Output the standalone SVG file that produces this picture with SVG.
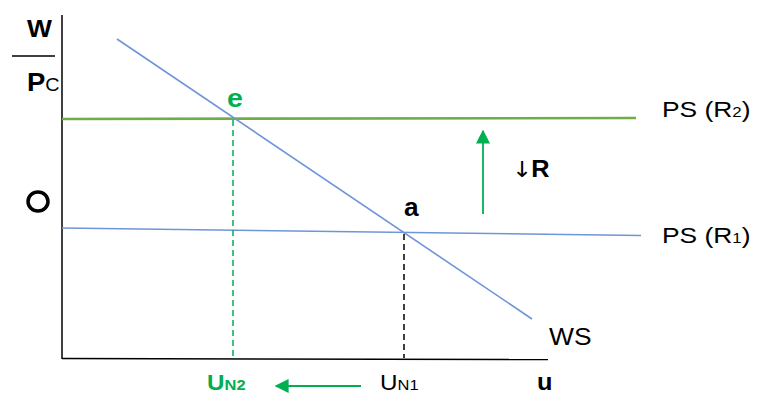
<svg xmlns="http://www.w3.org/2000/svg" width="759" height="396" viewBox="0 0 759 396">
<style>
text{font-family:"Liberation Sans",Arial,sans-serif;fill:#000}
.b{font-weight:bold}
.g{fill:#00B050}
.axis{stroke:#000;stroke-width:1.5;fill:none}
.blue{stroke:#6F95D8;stroke-width:1.6;fill:none}
.ps2{stroke:#70AD47;stroke-width:2.6;fill:none}
.dg{stroke:#00B050;stroke-width:1.5;stroke-dasharray:6 4;fill:none}
.dk{stroke:#000;stroke-width:1.5;stroke-dasharray:6 4;fill:none}
.arr{stroke:#00B050;stroke-width:1.8;fill:none}
</style>
<defs>
<marker id="ahg" viewBox="0 0 10 10" refX="9" refY="5" markerWidth="14" markerHeight="14" markerUnits="userSpaceOnUse" orient="auto">
<path d="M0,0 L10,5 L0,10 Z" fill="#00B050"/>
</marker>
</defs>
<rect width="759" height="396" fill="#fff"/>
<g id="axes">
<line class="axis" x1="62" y1="15" x2="62" y2="359"/>
<line class="axis" x1="62" y1="358.5" x2="548" y2="359.5"/>
<line class="axis" x1="12" y1="56" x2="55" y2="56"/>
</g>
<g id="connectors">
<line class="ps2" x1="62" y1="119" x2="636" y2="118"/>
<line class="blue" x1="62" y1="228" x2="641" y2="235.5"/>
<line class="blue" x1="117" y1="39" x2="532" y2="319"/>
<line class="dg" x1="233" y1="120" x2="233" y2="358"/>
<line class="dk" x1="404" y1="234" x2="404" y2="358"/>
<line class="arr" x1="483" y1="214" x2="483" y2="131" marker-end="url(#ahg)"/>
<line class="arr" x1="361" y1="386" x2="276" y2="386" marker-end="url(#ahg)"/>
</g>
<g id="labels">
<text class="b" font-size="24" transform="translate(27,37) scale(1.1,1)">W</text>
<text transform="translate(27,91) scale(1.1,1)"><tspan class="b" font-size="25">P</tspan><tspan font-size="18">C</tspan></text>
<ellipse cx="38" cy="201.5" rx="10" ry="9.5" fill="none" stroke="#000" stroke-width="3.5"/>
<text class="b g" font-size="26" transform="translate(227,107) scale(1.1,1)">e</text>
<text class="b" font-size="25" transform="translate(404,216) scale(1.05,1)">a</text>
<text font-size="23" transform="translate(512,177) scale(1.1,1)"><tspan font-family="DejaVu Sans" font-weight="normal" font-size="22">↓</tspan><tspan class="b" dx="-1">R</tspan></text>
<text font-size="22" transform="translate(662,117) scale(1.2,1)">PS (R<tspan font-size="14">2</tspan>)</text>
<text font-size="22" transform="translate(662,243) scale(1.2,1)">PS (R<tspan font-size="14">1</tspan>)</text>
<text font-size="24" transform="translate(549,345) scale(1.1,1)">WS</text>
<text class="b g" transform="translate(207,390) scale(1.1,1)"><tspan font-size="22">U</tspan><tspan font-size="15">N2</tspan></text>
<text transform="translate(380,390) scale(1.1,1)"><tspan font-size="22">U</tspan><tspan font-size="15">N1</tspan></text>
<text class="b" font-size="23" transform="translate(537,390) scale(1.1,1)">u</text>
</g>
</svg>
